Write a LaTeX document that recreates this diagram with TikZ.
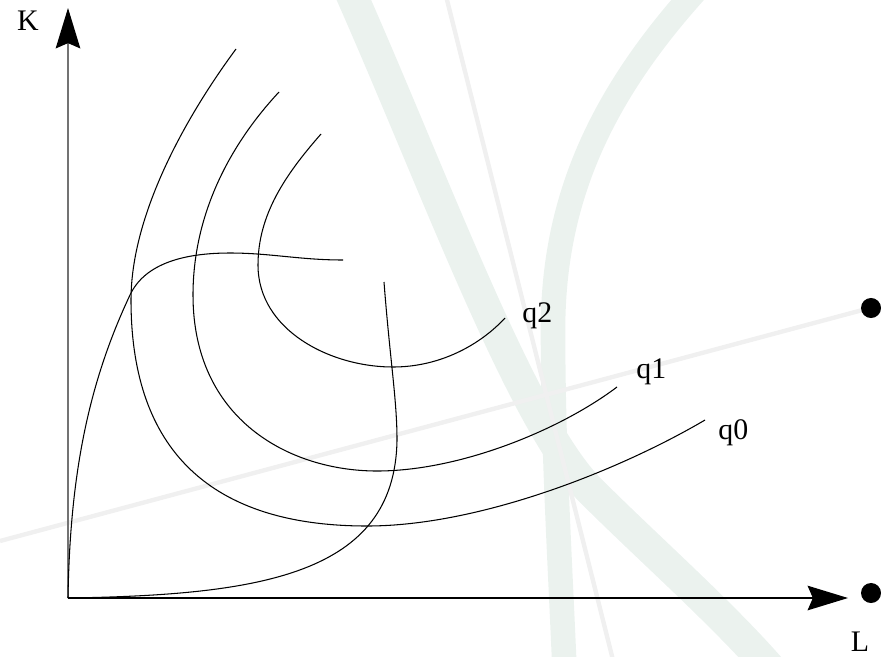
\documentclass[tikz,border=0pt]{standalone}
\usepackage{fontspec}
\setmainfont{Liberation Serif}
\usetikzlibrary{arrows.meta}
\definecolor{wmgreen}{RGB}{235,242,238}
\definecolor{wmgrey}{RGB}{240,240,240}
\begin{document}
\begin{tikzpicture}[x=0.02cm,y=-0.02cm,every node/.style={font=\fontsize{17}{19}\selectfont},
  curve/.style={line width=0.6pt},
  axis/.style={line width=0.7pt,-{Stealth[length=23pt,width=14pt,inset=3pt,color=black]}},
  dot/.style={circle,fill=black,inner sep=0pt,minimum size=11.4pt},
  qlabel/.style={anchor=base west,inner sep=0pt}]
\useasboundingbox (0,0) rectangle (881,656);
\clip (0,0) rectangle (881,656);
% faint background marks
\draw[wmgreen,line width=18pt] (345,-20) .. controls (430,170) and (520,420) .. (590,490) .. controls (650,550) and (730,620) .. (780,680);
\draw[wmgreen,line width=14pt] (715,-30) .. controls (600,90) and (553,200) .. (553,330) .. controls (553,450) and (560,560) .. (565,680);
\draw[wmgrey,line width=2.5pt] (442,-20) -- (618,680);
\draw[wmgrey,line width=2.5pt] (0,541) -- (870,308);
% axes
\coordinate (O) at (68,598);
\coordinate (Ktip) at (68,8);
\coordinate (Ltip) at (848,598);
\draw[axis,black!55] (O) -- (Ktip);
\draw[axis] (O) -- (Ltip);
\node (K) at (28,21) {K};
\node (L) at (860,642) {L};
\node[dot] (dotA) at (871,308) {};
\node[dot] (dotB) at (871,593) {};
% isoquants
\draw[curve] (236,49) .. controls (185,118) and (131,215) .. (131,300)
  .. controls (131,440) and (200,526) .. (367,526)
  .. controls (480,526) and (620,470) .. (705,420);
\draw[curve] (279,92) .. controls (225,150) and (193,220) .. (193,295)
  .. controls (193,420) and (290,471) .. (377,471)
  .. controls (460,471) and (560,430) .. (617,387);
\draw[curve] (321,134) .. controls (285,175) and (258,215) .. (258,265)
  .. controls (258,330) and (330,367) .. (393,367)
  .. controls (440,367) and (480,345) .. (505,318);
\node[qlabel] (q2) at (522,322) {q2};
\node[qlabel] (q1) at (636,378) {q1};
\node[qlabel] (q0) at (718,439) {q0};
% total and marginal product
\draw[curve] (68,598) .. controls (70,470) and (90,380) .. (130,295)
  .. controls (145,263) and (185,253) .. (230,253)
  .. controls (270,253) and (300,260) .. (343,260);
\draw[curve] (384,282) .. controls (390,360) and (397,400) .. (397,440)
  .. controls (395,575) and (260,595) .. (68,598);
\end{tikzpicture}
\end{document}
